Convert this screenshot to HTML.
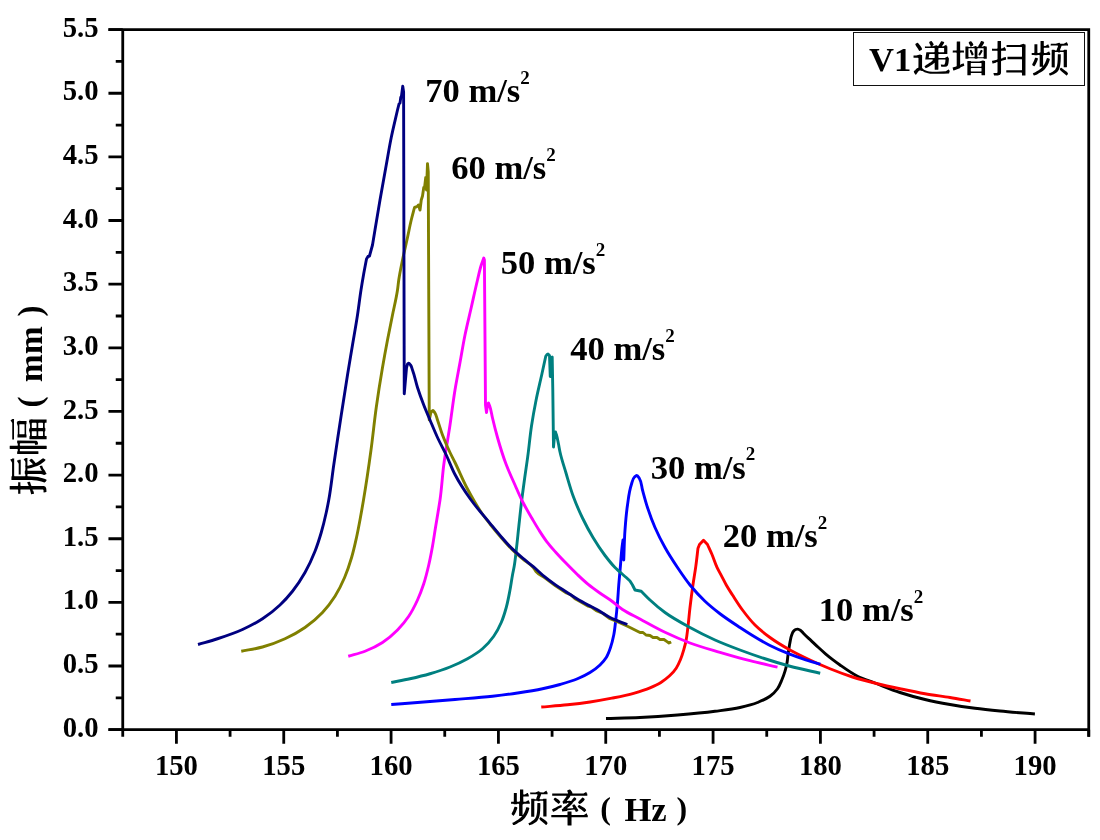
<!DOCTYPE html>
<html lang="zh"><head><meta charset="utf-8"><title>V1递增扫频</title>
<style>
html,body{margin:0;padding:0;background:#fff;}
body{width:1100px;height:840px;overflow:hidden;}
svg{display:block;}
text{font-family:"Liberation Serif",serif;font-weight:bold;fill:#000;}
</style></head><body>
<svg width="1100" height="840" viewBox="0 0 1100 840" style="will-change:transform">
<rect width="1100" height="840" fill="#fff"/>
<g fill="none" stroke-width="2.9" stroke-linejoin="round" stroke-linecap="butt">
<path stroke="#000000" d="M606 718.5C617.33 718.17 628.68 718.03 640 717.5C652.51 716.91 665.02 716.04 677.5 715C690.02 713.96 702.55 712.87 715 711.25C723.35 710.17 731.8 709.37 740 707.5C745.9 706.15 751.9 704.76 757.5 702.5C761.8 700.77 766.33 699.02 770 696.25C772.79 694.15 775.49 691.6 777.5 688.75C779.35 686.13 780.53 682.99 781.8 680C783.06 677.04 784.18 673.99 785.1 670.9C785.81 668.5 786.43 666.06 786.9 663.6C787.45 660.73 787.6 657.79 788 654.9C788.34 652.46 788.71 650.03 789.1 647.6C789.45 645.43 789.76 643.25 790.2 641.1C790.6 639.15 790.91 637.15 791.6 635.3C792.11 633.92 792.57 632.4 793.5 631.3C794.08 630.61 794.79 629.86 795.6 629.5C796.26 629.21 797.09 629.05 797.8 629.1C798.7 629.17 799.61 629.72 800.4 630.2C801.68 630.99 802.52 632.41 803.6 633.5C805.96 635.87 808.47 638.1 810.9 640.4C813.33 642.7 815.73 645.04 818.2 647.3C820.6 649.5 823.01 651.7 825.5 653.8C827.85 655.79 830.26 657.72 832.7 659.6C835.1 661.45 837.53 663.25 840 665C845.65 669.01 851.33 673.16 857.5 676.25C863.06 679.04 869.16 680.76 875 683C883.32 686.19 891.54 689.72 900 692.5C908.21 695.2 916.59 697.49 925 699.5C933.26 701.48 941.63 703.04 950 704.5C958.3 705.95 966.65 707.16 975 708.25C983.31 709.33 991.66 710.17 1000 711C1011.62 712.16 1023.27 713 1034.9 714"/>
<path stroke="#ff0000" d="M541.25 707C550 706.27 558.77 705.72 567.5 704.8C575.01 704.01 582.53 703.12 590 702C597.29 700.91 604.57 699.64 611.8 698.2C619.1 696.74 626.45 695.35 633.6 693.3C639.14 691.71 644.71 690.06 650 687.8C653.72 686.21 657.48 684.54 660.9 682.4C663.97 680.48 666.97 678.29 669.6 675.8C672.03 673.51 674.36 670.97 676.2 668.2C677.97 665.52 679.26 662.48 680.5 659.5C681.83 656.29 682.83 652.94 683.8 649.6C684.63 646.73 685.4 643.83 686 640.9C686.87 636.65 687.25 632.31 687.8 628C688.67 621.18 689.19 614.32 690 607.5C690.88 600.09 691.84 592.69 692.9 585.3C693.8 578.99 694.94 572.71 695.8 566.4C696.63 560.35 697.27 554.27 698 548.2L699.5 544.5L703.5 540.2L707.5 544.5L707.5 544.5C708.93 547.67 710.44 550.8 711.8 554C713.63 558.31 714.93 562.86 716.9 567.1C718.44 570.41 720.31 573.56 722 576.8C723.48 579.63 724.83 582.53 726.4 585.3C728.28 588.62 730.43 591.79 732.5 595C735.75 600.05 738.92 605.18 742.5 610C746.38 615.22 750.42 620.42 755 625C759.58 629.58 764.76 633.66 770 637.5C776.32 642.14 783.15 646.17 790 650C796.5 653.63 803.25 656.84 810 660C816.59 663.08 823.25 666.03 830 668.75C837.41 671.74 844.9 674.57 852.5 677C860.71 679.62 869.12 681.7 877.5 683.75C884.96 685.57 892.48 687.16 900 688.75C908.31 690.51 916.63 692.29 925 693.75C933.3 695.2 941.68 696.16 950 697.5C956.84 698.6 963.67 699.83 970.5 701"/>
<path stroke="#0000ff" d="M391.25 704.5C400 703.83 408.75 703.18 417.5 702.5C430 701.53 442.5 700.54 455 699.5C467.5 698.46 480.03 697.65 492.5 696.25C500.85 695.31 509.19 694.25 517.5 693C525.86 691.75 534.24 690.5 542.5 688.75C548.37 687.5 554.23 686.14 560 684.5C565.9 682.82 571.86 681.14 577.5 678.75C581.78 676.94 586.07 674.96 590 672.5C593.52 670.3 597.04 667.89 600 665C602.31 662.74 604.55 660.23 606.25 657.5C608.14 654.46 609.31 650.91 610.5 647.5C611.91 643.44 612.9 639.21 613.75 635C614.74 630.06 615.16 625.01 615.75 620C616.44 614.18 617 608.34 617.5 602.5C618 596.67 618.29 590.83 618.75 585C619.28 578.33 619.92 571.67 620.5 565C621 559.17 621.31 553.31 622 547.5C622.3 545 622.67 542.5 623 540L623.75 560L623.75 560C624.17 550 624.27 539.98 625 530C625.61 521.65 626.27 513.28 627.5 505C628.49 498.3 629.09 491.4 631.25 485C632.17 482.28 632.42 478.85 634.5 477C635.15 476.42 636.07 475.54 636.75 475.5C637.83 475.44 638.73 477.59 639.5 478.75C641.6 481.92 641.47 486.26 642.5 490C644.1 495.85 645.62 501.74 647.5 507.5C649.71 514.26 652.17 520.98 655 527.5C657.97 534.33 661.37 541 665 547.5C668.83 554.35 673.12 560.97 677.5 567.5C681.49 573.45 685.49 579.45 690 585C694.64 590.71 699.65 596.2 705 601.25C709.73 605.71 714.84 609.8 720 613.75C726.42 618.66 733.24 623.05 740 627.5C744.13 630.22 748.28 632.92 752.5 635.5C758.23 639 764.01 642.48 770 645.5C776.2 648.63 782.63 651.36 789.1 653.9C793.88 655.78 798.73 657.48 803.6 659.1C809.15 660.95 814.8 662.5 820.4 664.2"/>
<path stroke="#008080" d="M391.25 682.5C397.5 681.25 403.78 680.14 410 678.75C416.7 677.25 423.41 675.68 430 673.75C436.75 671.77 443.49 669.64 450 667C455.97 664.58 461.91 661.93 467.5 658.75C472.71 655.79 478.01 652.67 482.5 648.75C486.69 645.09 490.55 640.81 493.75 636.25C496.73 632.01 499.17 627.27 501.25 622.5C503.35 617.69 504.85 612.57 506.25 607.5C507.84 601.76 508.9 595.86 510 590C510.94 585.02 511.58 579.98 512.5 575C513.05 571.99 513.74 569.01 514.25 566C515.27 560.04 515.8 554.01 516.5 548C517.32 541.01 517.99 534 518.75 527C519.73 518 520.64 508.99 521.75 500C522.68 492.49 523.71 484.99 524.75 477.5C525.72 470.5 526.81 463.51 527.75 456.5C529.12 446.35 529.96 436.12 531.5 426C532.8 417.47 534.32 408.96 536 400.5C537.79 391.46 540.03 382.51 542 373.5C543.26 367.75 544.5 362 545.75 356.25L547 354.5L548 354L549.5 355.5L550.25 376.5L551.2 358L552.2 357L552.8 390L553.5 447L554.5 436L555.5 432C555.83 433 556.19 433.99 556.5 435C557.39 437.94 557.89 440.99 558.5 444C559.04 446.66 559.43 449.35 560 452C561.52 459.11 563.92 466.02 566 473C568.39 481.03 570.58 489.16 573.5 497C576.15 504.13 579.19 511.15 582.5 518C585.71 524.64 589.2 531.18 593 537.5C596.71 543.67 600.64 549.77 605 555.5C608.15 559.64 611.38 563.78 615 567.5C618.49 571.09 622.5 574.17 626.25 577.5L630 581L632.5 585L635 590L641.25 591.25L641.25 591.25C644.17 594.17 646.99 597.19 650 600C654.76 604.43 659.77 608.66 665 612.5C672.81 618.23 681.48 622.83 690 627.5C698.16 631.97 706.51 636.19 715 640C723.18 643.67 731.6 646.85 740 650C748.27 653.1 756.6 656.02 765 658.75C773.27 661.44 781.6 663.99 790 666.25C799.97 668.93 810.13 670.92 820.2 673.25"/>
<path stroke="#ff00ff" d="M348.25 656.25C353.83 654.58 359.59 653.36 365 651.25C371.05 648.89 377.08 646.05 382.5 642.5C387.91 638.96 392.96 634.62 397.5 630C401.63 625.79 405.46 621.14 408.75 616.25C412.17 611.17 414.95 605.58 417.5 600C419.91 594.73 421.94 589.26 423.75 583.75C425.76 577.61 427.28 571.3 428.75 565C430.19 558.8 431.37 552.52 432.5 546.25C433.62 540.02 434.48 533.75 435.5 527.5C436.32 522.5 437.18 517.5 438 512.5C438.68 508.34 439.39 504.17 440 500C441.69 488.39 442.24 476.63 443.75 465C445.49 451.62 448.01 438.35 450 425C451.74 413.34 453.09 401.63 455 390C456.51 380.81 458.33 371.67 460 362.5C461.67 353.33 463.14 344.13 465 335C466.88 325.79 469.17 316.67 471.25 307.5C473.33 298.33 475.29 289.14 477.5 280C478.71 274.99 479.67 269.9 481.25 265C482.01 262.64 482.92 260.33 483.75 258L484.4 260L485.5 405L486.5 412.5L487.5 405L488.5 403C489 404.33 489.55 405.65 490 407C491.19 410.56 491.63 414.34 492.5 418C494.05 424.53 495.67 431.05 497.5 437.5C500.03 446.42 502.72 455.34 506 464C508.7 471.11 511.92 478.04 515 485C517.45 490.52 519.78 496.11 522.5 501.5C525.56 507.57 529.06 513.43 532.5 519.3C534.66 522.99 536.81 526.69 539.1 530.3C541.53 534.13 543.97 537.98 546.7 541.6C549.43 545.22 552.49 548.61 555.5 552C559.02 555.97 562.71 559.79 566.4 563.6C569.98 567.29 573.58 570.96 577.3 574.5C580.85 577.88 584.41 581.29 588.2 584.4C591.7 587.26 595.4 589.89 599.1 592.5C602.67 595.02 606.45 597.25 610 599.8C614.28 602.87 618.13 606.58 622.5 609.5C628 613.17 634.16 615.85 640 619C648.31 623.47 656.49 628.23 665 632.3C673.17 636.21 681.52 639.84 690 643C699.8 646.65 709.96 649.34 720 652.3C729.96 655.24 739.94 658.13 750 660.7C759.12 663.03 768.33 664.97 777.5 667.1"/>
<path stroke="#808000" d="M241.25 651.25C248.33 649.83 255.56 648.92 262.5 647C270.17 644.87 277.77 642.1 285 638.75C291.92 635.55 298.76 631.86 305 627.5C311.27 623.12 317.27 618.08 322.5 612.5C327.15 607.54 331.35 602 335 596.25C338.75 590.35 341.84 583.94 344.6 577.5C347.38 571.02 349.6 564.26 351.6 557.5C353.55 550.93 355.02 544.2 356.5 537.5C357.87 531.28 359.03 525.01 360.2 518.75C361.36 512.51 362.44 506.26 363.5 500C366.31 483.38 368.73 466.7 371 450C372.92 435.86 374.27 421.63 376.25 407.5C378.12 394.14 380.22 380.8 382.5 367.5C384.07 358.32 385.75 349.15 387.5 340C389.1 331.65 390.83 323.33 392.5 315C394.17 306.67 396.27 298.4 397.5 290C397.99 286.68 398.27 283.32 398.75 280C399.73 273.29 401.15 266.65 402.5 260C404.03 252.47 405.87 245.01 407.5 237.5C408.77 231.67 409.85 225.8 411.25 220C412.26 215.82 413.42 211.67 414.5 207.5L416 207L417.5 206.25L418.5 205L420 210L421.25 200L422.5 196L423.75 187.5L424.5 188L425.75 177.5L426.5 190L427.5 163.6L428.25 172L429.25 420L431 412L433 410.5C433.67 411.33 434.43 412.11 435 413C436.33 415.05 436.68 417.66 437.5 420C439.24 424.98 440.65 430.07 442.5 435C444.73 440.94 447.29 446.77 450 452.5C451.59 455.87 453.36 459.16 455 462.5C459.14 470.93 462.63 479.7 467 488C471.59 496.72 476.32 505.45 482 513.5C484.53 517.09 487.27 520.55 490 524C493.53 528.48 497.16 532.89 500.9 537.2C504.44 541.28 507.96 545.4 511.8 549.2C515.27 552.63 518.98 555.83 522.7 559C526.25 562.03 530.8 564.12 533.6 567.8C534.48 568.96 535.08 570.38 536 571.5C538.18 574.16 541.67 575.57 544.5 577.6L555.5 585.8L566.4 593L571 595L575 598.8L580 601.5L588.2 606.2L592 607.5L596.9 611L603 613.5L610 618.75L618 622L627.5 626.25L633 629L640 632.5L643 632.5L646 635L650 635.5L653 637.5L657 637.5L660 639.5L664 639.5L667 641.6L669 643L671.2 642"/>
<path stroke="#000080" d="M198 644.5C204.5 642.58 211.06 640.85 217.5 638.75C225.94 635.99 234.44 633.19 242.5 629.5C249.37 626.36 256.19 622.89 262.5 618.75C268.68 614.7 274.63 610.08 280 605C284.49 600.76 288.66 596.09 292.5 591.25C297.15 585.38 301.31 579.02 305 572.5C308.85 565.71 312.13 558.52 315 551.25C317.41 545.13 319.4 538.82 321.25 532.5C323.18 525.91 324.78 519.21 326.25 512.5C327.16 508.35 327.98 504.18 328.75 500C330.89 488.41 332.05 476.66 333.75 465C336.18 448.32 338.69 431.66 341.25 415C343.3 401.66 345.34 388.32 347.5 375C349.12 364.99 350.83 355 352.5 345C354.17 335 355.98 325.02 357.5 315C358.76 306.68 359.7 298.31 361 290C361.78 284.99 362.62 279.99 363.5 275C364.44 269.66 365.5 264.33 366.5 259L368 256.5L369.5 256L372.5 245C375 230 377.4 214.98 380 200C382.02 188.32 384.15 176.66 386.25 165C387.9 155.83 389.39 146.63 391.25 137.5C393.13 128.29 395.42 119.17 397.5 110L399 104L400 103L400.75 97.5L401.5 96L402.75 86.25L403.6 92L404.25 393.75L406.5 368L407.5 364C407.92 363.75 408.36 363.28 408.75 363.25C409.41 363.2 410 364.36 410.5 365C411.58 366.39 411.87 368.32 412.5 370C414.62 375.68 415.65 381.73 417.5 387.5C419.39 393.4 421.51 399.23 423.75 405C425.71 410.05 427.89 415.01 430 420C432.47 425.85 434.83 431.74 437.5 437.5C440.24 443.42 443.45 449.11 446.25 455C449.31 461.43 451.71 468.2 455 474.5C459.35 482.85 464.57 490.81 470 498.5C476.12 507.16 483.25 515.1 490 523.3C493.61 527.69 497.17 532.12 500.9 536.4C504.45 540.48 507.96 544.6 511.8 548.4C515.27 551.83 518.97 555.05 522.7 558.2C526.25 561.2 530.05 563.9 533.6 566.9C537.33 570.05 540.72 573.61 544.5 576.7C548.04 579.59 551.75 582.29 555.5 584.9C559.06 587.38 562.77 589.63 566.4 592C570.03 594.37 573.58 596.87 577.3 599.1C580.86 601.23 584.53 603.17 588.2 605.1C591.08 606.61 594.05 607.95 596.9 609.5C601.39 611.95 605.46 615.17 610 617.5C615.52 620.33 621.53 622.17 627.3 624.5"/>
</g>
<g stroke="#000" stroke-width="2.8" fill="none" stroke-linecap="butt">
<path d="M122.75 28.2 V736.75 M1088.75 28.2 V736.75 M108.45 29.6 H1090.15 M108.45 729.65 H1090.15"/>
<path d="M108.45 729.65H122.75M108.45 666.01H122.75M108.45 602.37H122.75M108.45 538.73H122.75M108.45 475.09H122.75M108.45 411.45H122.75M108.45 347.8H122.75M108.45 284.16H122.75M108.45 220.52H122.75M108.45 156.88H122.75M108.45 93.24H122.75M108.45 29.6H122.75M115.75 697.83H122.75M115.75 634.19H122.75M115.75 570.55H122.75M115.75 506.91H122.75M115.75 443.27H122.75M115.75 379.62H122.75M115.75 315.98H122.75M115.75 252.34H122.75M115.75 188.7H122.75M115.75 125.06H122.75M115.75 61.42H122.75M176.42 729.65V743.65M283.75 729.65V743.65M391.08 729.65V743.65M498.42 729.65V743.65M605.75 729.65V743.65M713.08 729.65V743.65M820.42 729.65V743.65M927.75 729.65V743.65M1035.08 729.65V743.65M230.08 729.65V736.75M337.42 729.65V736.75M444.75 729.65V736.75M552.08 729.65V736.75M659.42 729.65V736.75M766.75 729.65V736.75M874.08 729.65V736.75M981.42 729.65V736.75M1088.75 729.65V736.75"/>
</g>
<g font-size="28.7" text-anchor="end">
<text x="98.5" y="736.75">0.0</text>
<text x="98.5" y="673.11">0.5</text>
<text x="98.5" y="609.47">1.0</text>
<text x="98.5" y="545.83">1.5</text>
<text x="98.5" y="482.19">2.0</text>
<text x="98.5" y="418.55">2.5</text>
<text x="98.5" y="354.9">3.0</text>
<text x="98.5" y="291.26">3.5</text>
<text x="98.5" y="227.62">4.0</text>
<text x="98.5" y="163.98">4.5</text>
<text x="98.5" y="100.34">5.0</text>
<text x="98.5" y="36.7">5.5</text>
</g>
<g font-size="28.7" text-anchor="middle">
<text x="176.42" y="775">150</text>
<text x="283.75" y="775">155</text>
<text x="391.08" y="775">160</text>
<text x="498.42" y="775">165</text>
<text x="605.75" y="775">170</text>
<text x="713.08" y="775">175</text>
<text x="820.42" y="775">180</text>
<text x="927.75" y="775">185</text>
<text x="1035.08" y="775">190</text>
</g>
<g font-size="34.6">
<text x="425.2" y="102">70 m/s<tspan font-size="19" dy="-18.2">2</tspan></text>
<text x="451.2" y="178.75">60 m/s<tspan font-size="19" dy="-18.2">2</tspan></text>
<text x="500.7" y="273.75">50 m/s<tspan font-size="19" dy="-18.2">2</tspan></text>
<text x="570.2" y="360">40 m/s<tspan font-size="19" dy="-18.2">2</tspan></text>
<text x="650.7" y="478.6">30 m/s<tspan font-size="19" dy="-18.2">2</tspan></text>
<text x="722.7" y="547">20 m/s<tspan font-size="19" dy="-18.2">2</tspan></text>
<text x="818.7" y="621.25">10 m/s<tspan font-size="19" dy="-18.2">2</tspan></text>
</g>
<rect x="853.5" y="32.5" width="231" height="53" fill="#fff" stroke="#111" stroke-width="1"/>
<text x="869" y="71.25" font-size="34.6">V1</text>
<g role="img" aria-label="递增扫频"><title>递增扫频</title>
<path fill-rule="evenodd" transform="translate(913.5 41) scale(0.03972 0.03702)" d="M1 393L0 449L3 454L15 452L110 452L118 456L123 460L125 466L124 714L120 720L88 739L67 756L58 766L47 782L42 788L30 794L24 800L7 827L7 830L17 858L42 896L55 912L60 912L63 909L98 856L126 818L143 803L153 797L162 794L178 796L206 810L222 810L229 812L278 842L322 860L364 872L418 882L497 887L588 888L766 883L877 878L892 878L896 876L906 834L913 820L913 810L904 798L892 775L886 771L880 773L824 807L817 816L809 820L698 826L586 830L471 828L395 821L366 816L342 808L278 782L250 763L218 726L216 720L216 475L218 426L216 416L216 384L214 380L208 377L186 376L180 374L173 365L164 364L68 392L15 393L3 391ZM103 46L60 68L46 89L46 94L64 134L113 212L140 265L144 268L148 270L200 242L216 220L216 214L197 168L170 128L114 51L108 46ZM448 0L410 16L405 22L394 39L396 46L409 80L433 126L434 138L432 143L426 146L303 146L291 144L288 150L288 189L291 192L303 190L518 190L524 192L531 198L533 204L532 291L526 299L518 302L326 301L322 308L318 346L311 389L296 498L298 500L300 502L477 500L480 502L484 505L484 518L481 524L434 575L406 588L363 620L318 649L298 668L282 677L278 682L285 694L289 708L296 719L309 733L318 732L340 722L387 696L414 674L444 657L476 634L523 592L530 589L532 590L533 596L534 770L540 774L619 774L624 772L626 767L626 514L628 508L634 502L642 500L797 500L800 502L804 505L805 521L798 580L793 602L787 615L782 632L778 636L767 640L690 638L688 640L688 646L694 669L696 687L698 692L702 693L735 694L772 694L789 696L802 696L821 692L837 686L850 676L862 662L870 643L880 602L885 558L888 522L892 511L889 493L890 460L888 456L882 456L878 452L870 426L866 416L863 416L856 418L798 454L786 458L642 458L633 455L628 450L626 444L626 362L628 355L636 349L642 348L836 348L844 350L850 348L852 344L852 150L848 144L842 144L838 140L828 108L826 104L823 103L816 106L752 144L746 146L730 146L726 144L722 138L724 127L756 82L773 44L774 38L755 18L706 4L700 4L696 9L668 64L626 131L621 132L597 130L592 126L584 118L575 116L492 141L480 142L478 140L476 136L478 127L492 120L498 115L508 101L508 94L498 65L486 44L458 4L452 0ZM398 352L405 348L518 348L526 350L531 355L533 362L533 444L531 450L525 456L518 458L392 458L388 456L384 450L384 440L395 380L396 359ZM630 196L637 192L642 190L763 190L768 192L771 198L771 294L769 299L763 302L642 302L633 299L628 294L626 288L626 228L628 202Z"/>
<path fill-rule="evenodd" transform="translate(952.6 41) scale(0.03938 0.03700)" d="M822 540L816 538L792 537L778 524L768 526L674 554L477 554L470 552L458 542L448 538L382 538L378 540L375 546L375 919L377 924L382 926L458 926L462 919L462 874L468 866L474 863L720 862L728 866L734 874L735 919L739 926L816 926L821 924L824 919L824 636L826 586L824 578L824 546ZM462 742L468 734L477 730L724 732L733 738L735 744L734 814L728 822L720 825L472 824L464 818L462 811ZM462 604L468 596L477 592L724 594L733 600L735 606L734 684L728 692L720 695L472 694L464 688L462 681ZM722 236L717 237L714 240L693 288L664 346L657 366L658 372L666 383L686 392L694 392L709 370L752 298L762 270L762 261L752 248ZM468 236L446 246L438 255L436 264L442 285L471 348L484 386L486 390L492 392L524 378L533 368L534 360L524 328L502 282L478 240L474 237ZM184 13L112 13L105 17L104 245L102 252L96 257L88 259L19 259L7 257L4 262L4 310L7 316L19 314L88 314L98 316L102 321L104 328L104 672L99 682L90 688L1 718L0 725L6 744L10 768L18 792L22 796L32 795L181 734L189 728L198 716L205 710L283 678L292 676L296 672L288 618L286 608L282 605L273 606L224 624L216 629L205 639L201 641L195 640L192 634L192 324L198 316L207 314L272 314L284 316L288 310L288 262L284 257L272 259L207 259L200 257L192 250L192 20L190 16ZM788 23L780 16L730 0L723 2L692 66L656 130L652 139L650 153L644 160L636 160L622 152L600 149L588 136L582 134L508 161L484 162L479 160L476 156L476 148L478 143L482 140L496 135L511 128L516 122L528 104L526 97L515 68L502 45L471 4L468 3L461 4L424 21L410 40L408 46L422 82L454 140L456 154L454 159L448 162L416 162L408 160L394 152L387 150L330 150L326 153L325 156L326 476L330 480L387 479L394 478L408 469L416 468L546 468L553 469L571 478L616 479L623 478L638 469L644 468L775 468L782 469L796 478L804 479L866 478L868 473L868 246L870 213L868 153L863 150L844 150L838 149L826 136L822 134L814 135L750 157L744 157L741 153L740 148L742 141L760 120L781 89L802 46L801 39L794 32ZM638 196L644 194L775 194L784 196L788 200L789 205L789 424L788 430L784 434L775 436L644 436L636 434L632 430L630 424L630 246L632 204L634 198ZM407 196L416 194L546 194L554 196L558 200L560 205L560 424L558 430L554 434L546 436L416 436L407 434L403 430L402 424L402 205L403 200Z"/>
<path fill-rule="evenodd" transform="translate(991.9 41) scale(0.03874 0.03765)" d="M864 90L838 88L832 86L825 77L816 76L716 105L393 105L381 103L379 105L378 156L381 162L393 160L762 160L769 162L775 167L777 174L777 407L775 414L770 418L762 421L417 421L405 419L402 424L402 478L405 484L417 482L762 482L770 484L775 489L777 496L777 766L775 772L770 777L762 780L386 780L374 778L371 784L371 833L374 838L386 836L762 836L770 840L776 848L777 911L780 916L784 918L860 918L866 914L868 187L870 138L868 128L868 96ZM229 0L152 0L146 4L145 189L143 196L138 200L130 203L18 203L6 201L3 206L3 254L6 260L18 258L130 258L138 260L143 265L145 272L145 480L142 488L136 494L128 498L20 522L4 524L0 528L0 534L8 560L12 586L16 598L20 600L26 600L100 580L107 576L113 565L130 558L136 558L140 560L143 563L145 569L145 818L142 834L138 844L134 848L128 850L44 850L40 852L40 856L49 889L52 913L56 917L60 918L105 918L150 915L174 911L190 906L202 900L214 891L222 882L228 871L232 860L236 827L236 544L238 538L245 530L254 526L351 500L365 500L368 496L364 468L361 437L359 431L355 428L341 428L327 434L282 446L274 451L270 459L266 463L255 468L244 468L238 464L237 460L238 267L244 260L252 258L344 258L358 260L360 258L360 206L356 201L349 200L346 196L336 164L334 161L331 160L324 163L260 202L247 202L238 196L236 189L236 8L234 2Z"/>
<path fill-rule="evenodd" transform="translate(1031.7 41) scale(0.03950 0.03718)" d="M739 720L719 742L711 763L712 769L722 780L735 800L744 809L804 858L851 900L876 925L879 927L886 925L910 899L918 876L918 870L898 840L888 828L858 804L775 740L748 720L742 719ZM140 458L96 448L89 448L86 450L68 504L56 538L20 612L13 633L14 638L20 652L26 660L59 682L64 682L70 678L95 637L121 586L143 531L151 506L157 482L158 474L148 463ZM732 356L712 354L668 354L661 358L658 498L653 582L644 644L637 678L630 702L621 722L607 748L592 770L568 794L530 824L482 857L470 864L438 876L437 880L443 893L448 912L454 924L458 930L464 930L480 926L540 903L559 892L589 871L619 855L630 846L656 818L671 798L685 772L700 739L710 706L719 666L726 616L732 552L736 466L736 362ZM892 33L888 32L882 35L824 70L812 75L730 74L724 71L709 52L702 48L694 48L610 75L496 75L484 73L482 75L481 121L484 126L496 124L652 124L662 128L665 136L664 148L637 224L634 245L630 252L625 254L596 254L589 250L580 242L570 238L512 238L508 240L506 244L505 702L509 708L576 710L581 708L584 702L584 308L586 301L590 296L599 294L651 294L660 296L672 304L680 306L706 306L712 303L724 295L730 294L794 294L802 296L808 301L810 308L810 699L812 704L818 706L885 706L892 702L892 242L885 238L823 238L814 242L804 250L798 254L730 254L726 253L718 248L716 239L718 232L748 158L751 147L752 132L758 126L902 124L912 127L916 127L918 126L917 76L916 74L908 72L904 69L895 38ZM301 0L230 0L226 2L224 6L223 298L222 303L218 306L206 310L196 318L190 322L158 322L154 321L146 316L144 310L144 94L142 90L137 88L76 88L72 90L69 96L68 312L64 319L55 322L15 322L3 320L0 324L0 370L3 376L15 374L55 374L64 376L76 384L84 386L133 386L139 384L152 375L158 374L190 374L194 376L200 381L202 388L202 685L204 690L210 692L265 692L268 694L270 697L268 702L256 716L226 745L174 786L128 816L80 846L58 857L34 866L30 870L30 874L36 887L42 907L50 924L54 928L61 928L82 922L122 905L146 894L190 860L230 842L262 822L288 801L319 770L340 747L363 716L398 660L426 600L450 530L458 493L458 486L457 484L448 475L440 471L394 460L385 461L381 469L362 534L338 592L320 626L301 658L293 666L291 666L289 662L288 397L290 392L294 390L302 386L314 376L322 374L452 374L462 376L466 376L468 374L467 324L464 320L458 319L454 316L445 284L441 280L436 280L365 322L322 322L314 320L308 312L306 194L308 187L314 182L322 180L430 180L443 182L445 180L444 136L442 132L434 130L432 126L422 94L416 90L408 93L345 132L339 133L322 133L313 130L308 126L306 119L306 8L304 2Z"/>
</g>
<g role="img" aria-label="频率"><title>频率</title>
<path fill-rule="evenodd" transform="translate(511.1 789.5) scale(0.03972 0.03837)" d="M739 720L719 742L711 763L712 769L722 780L735 800L744 809L804 858L851 900L876 925L879 927L886 925L910 899L918 876L918 870L898 840L888 828L858 804L775 740L748 720L742 719ZM140 458L96 448L89 448L86 450L68 504L56 538L20 612L13 633L14 638L20 652L26 660L59 682L64 682L70 678L95 637L121 586L143 531L151 506L157 482L158 474L148 463ZM732 356L712 354L668 354L661 358L658 498L653 582L644 644L637 678L630 702L621 722L607 748L592 770L568 794L530 824L482 857L470 864L438 876L437 880L443 893L448 912L454 924L458 930L464 930L480 926L540 903L559 892L589 871L619 855L630 846L656 818L671 798L685 772L700 739L710 706L719 666L726 616L732 552L736 466L736 362ZM892 33L888 32L882 35L824 70L812 75L730 74L724 71L709 52L702 48L694 48L610 75L496 75L484 73L482 75L481 121L484 126L496 124L652 124L662 128L665 136L664 148L637 224L634 245L630 252L625 254L596 254L589 250L580 242L570 238L512 238L508 240L506 244L505 702L509 708L576 710L581 708L584 702L584 308L586 301L590 296L599 294L651 294L660 296L672 304L680 306L706 306L712 303L724 295L730 294L794 294L802 296L808 301L810 308L810 699L812 704L818 706L885 706L892 702L892 242L885 238L823 238L814 242L804 250L798 254L730 254L726 253L718 248L716 239L718 232L748 158L751 147L752 132L758 126L902 124L912 127L916 127L918 126L917 76L916 74L908 72L904 69L895 38ZM301 0L230 0L226 2L224 6L223 298L222 303L218 306L206 310L196 318L190 322L158 322L154 321L146 316L144 310L144 94L142 90L137 88L76 88L72 90L69 96L68 312L64 319L55 322L15 322L3 320L0 324L0 370L3 376L15 374L55 374L64 376L76 384L84 386L133 386L139 384L152 375L158 374L190 374L194 376L200 381L202 388L202 685L204 690L210 692L265 692L268 694L270 697L268 702L256 716L226 745L174 786L128 816L80 846L58 857L34 866L30 870L30 874L36 887L42 907L50 924L54 928L61 928L82 922L122 905L146 894L190 860L230 842L262 822L288 801L319 770L340 747L363 716L398 660L426 600L450 530L458 493L458 486L457 484L448 475L440 471L394 460L385 461L381 469L362 534L338 592L320 626L301 658L293 666L291 666L289 662L288 397L290 392L294 390L302 386L314 376L322 374L452 374L462 376L466 376L468 374L467 324L464 320L458 319L454 316L445 284L441 280L436 280L365 322L322 322L314 320L308 312L306 194L308 187L314 182L322 180L430 180L443 182L445 180L444 136L442 132L434 130L432 126L422 94L416 90L408 93L345 132L339 133L322 133L313 130L308 126L306 119L306 8L304 2Z"/>
<path fill-rule="evenodd" transform="translate(551.3 789.5) scale(0.04029 0.03861)" d="M904 665L902 660L895 659L891 656L882 623L879 620L876 618L868 622L808 658L799 662L510 662L504 660L502 654L502 578L499 572L493 570L410 571L404 573L402 578L402 654L401 657L398 660L15 662L3 660L0 665L0 714L3 719L15 717L398 718L401 722L402 725L403 928L410 932L494 932L499 930L502 924L502 725L502 722L506 718L890 717L902 720L904 718L906 714ZM666 418L659 436L653 444L654 449L668 460L694 488L748 526L784 556L816 583L820 585L826 584L854 560L862 541L867 534L867 530L852 514L835 492L824 482L748 432L697 401L690 400L686 402ZM250 402L247 400L242 400L168 434L143 448L115 466L60 492L34 507L22 512L20 518L25 530L30 549L44 574L48 577L55 576L118 545L138 532L162 510L174 501L258 458L260 454L260 448L256 420ZM90 214L68 232L56 257L57 261L72 274L86 293L96 303L145 344L174 371L178 374L184 372L214 346L224 323L224 317L211 302L194 280L181 268L104 216L96 213ZM782 210L773 210L730 255L701 283L692 294L679 314L666 329L666 334L678 355L684 361L705 374L710 374L720 370L758 340L790 312L804 298L830 260L830 256L824 248L818 234L808 226ZM23 106L22 158L25 163L37 161L370 161L374 162L377 166L378 176L375 184L340 232L308 270L305 276L302 288L300 294L278 312L279 320L288 347L290 365L294 372L300 372L334 364L380 360L387 357L398 346L408 342L418 342L424 344L428 349L428 358L424 364L364 418L306 466L302 472L298 486L294 491L279 500L260 510L260 516L267 540L270 563L273 569L276 572L324 562L387 554L394 550L405 538L412 536L562 521L574 521L578 524L578 530L589 536L606 579L610 582L614 584L656 566L661 562L671 547L672 543L668 529L646 492L636 483L630 464L593 409L578 390L572 385L564 386L538 396L530 402L522 418L522 422L532 444L544 467L544 476L540 482L528 485L405 494L400 490L399 480L401 474L448 438L520 370L526 362L528 350L532 344L581 294L596 284L607 274L622 248L620 241L612 226L607 220L574 200L568 200L562 205L510 270L504 282L502 290L500 293L494 295L472 296L446 292L437 292L415 298L403 298L396 296L391 288L392 280L423 246L458 200L466 186L470 168L474 163L480 161L878 161L890 164L894 161L893 108L890 104L883 104L880 100L870 68L867 64L862 64L800 102L788 106L534 106L526 102L524 96L521 80L503 48L478 10L468 0L460 0L416 12L412 14L396 32L396 40L416 88L415 102L412 106L408 106L37 106L25 104Z"/>
</g>
<text x="600.3" y="819.3" font-size="32">(</text>
<text x="624.4" y="820.5" font-size="34.6">Hz</text>
<text x="676.6" y="819.3" font-size="32">)</text>
<g transform="translate(41.9 497) rotate(-90)">
<g role="img" aria-label="振幅"><title>振幅</title>
<path fill-rule="evenodd" transform="translate(2.7 -32.2) scale(0.03969 0.03987)" d="M872 230L870 224L862 223L858 220L849 188L846 184L842 183L775 223L766 226L512 226L500 224L497 230L497 272L500 278L512 276L856 276L870 278L872 276ZM876 17L873 16L866 19L808 54L796 59L467 59L460 57L448 46L438 44L368 43L362 47L361 481L359 552L356 608L347 681L336 740L322 793L308 832L296 868L297 874L307 891L312 896L354 926L362 928L366 924L384 887L406 828L420 776L433 714L443 638L450 548L452 458L454 451L458 446L467 444L498 444L507 451L509 458L509 780L506 808L500 830L495 846L487 860L486 867L496 894L514 924L520 924L546 908L592 885L624 860L652 842L706 818L720 815L723 812L720 798L716 757L712 752L695 755L676 764L626 784L620 788L614 800L609 804L600 804L595 798L594 458L596 451L601 446L610 444L640 444L644 445L648 449L650 472L665 538L680 592L698 644L716 689L734 730L758 775L780 808L805 842L828 868L850 890L865 900L870 900L873 898L898 862L908 837L908 831L898 819L886 796L864 773L830 730L806 692L786 656L786 651L792 644L817 626L875 576L894 548L886 528L880 518L858 498L853 494L848 495L785 560L763 579L756 580L752 574L742 548L718 460L718 454L720 448L725 445L732 444L898 444L912 446L914 444L914 398L912 392L904 391L900 388L890 354L886 351L882 352L817 391L808 394L732 394L714 388L706 388L683 394L610 394L600 390L593 384L586 380L570 378L522 378L513 382L504 390L498 393L467 394L458 391L454 386L452 380L452 126L454 120L458 116L467 112L886 112L900 115L902 112L902 62L898 57L892 56L888 53L880 26ZM204 0L128 0L121 4L120 198L118 204L112 210L104 212L27 212L15 210L12 216L12 264L15 270L27 268L104 268L114 270L118 275L120 282L120 493L118 499L112 508L106 510L26 532L4 536L0 540L7 574L11 602L14 609L16 612L26 610L82 594L89 590L96 580L104 574L115 574L118 578L120 583L120 828L115 841L108 846L101 848L67 848L48 852L46 854L44 858L52 889L56 914L58 918L64 922L112 920L150 915L168 909L180 903L190 895L198 884L205 871L208 860L212 832L212 552L216 544L226 536L300 514L311 512L314 508L309 451L307 445L304 443L298 443L252 456L244 460L234 470L226 474L217 474L212 468L212 277L220 270L227 268L292 268L304 270L306 264L306 216L304 210L292 212L227 212L220 210L212 202L212 8L210 2Z"/>
<path fill-rule="evenodd" transform="translate(42.9 -32.2) scale(0.03924 0.03987)" d="M380 498L378 502L378 919L380 924L386 926L458 926L462 919L464 888L470 880L478 878L570 878L578 881L591 892L598 894L654 894L662 890L672 881L680 878L782 878L789 880L796 888L797 918L801 924L877 926L882 923L884 918L884 593L886 544L884 534L884 502L882 497L877 495L855 494L850 492L842 483L834 482L740 510L680 511L672 508L658 497L634 494L622 483L614 482L524 511L475 510L468 508L458 498L450 496L386 495ZM668 722L674 717L680 716L782 716L790 718L795 723L797 730L797 822L795 828L789 834L782 836L680 836L670 832L666 828L664 822L664 729ZM464 723L470 718L478 716L570 716L580 719L583 723L585 729L585 822L582 830L576 834L570 836L478 836L469 833L464 828L462 822L462 730ZM668 559L674 555L680 554L782 554L790 556L795 561L797 568L797 660L795 666L789 672L782 674L680 674L670 670L666 666L664 660L664 593L666 566ZM464 561L470 556L478 554L570 554L580 557L583 561L585 567L585 660L582 668L576 672L570 674L478 674L469 671L464 666L462 660L462 568ZM844 196L840 194L822 195L817 194L803 178L800 176L791 178L707 204L516 204L508 202L495 196L488 195L424 195L422 200L422 416L424 420L427 422L488 422L495 420L508 414L516 412L749 412L758 414L770 420L777 422L843 422L846 416L846 288L848 238L846 230L846 200ZM504 250L509 244L516 242L749 242L756 244L760 248L762 253L762 365L756 371L749 373L516 373L510 372L506 368L504 362ZM894 68L892 62L884 60L880 57L871 26L868 22L864 21L798 60L788 64L390 64L378 62L375 68L375 105L378 110L390 108L878 108L890 112L894 108ZM138 0L134 2L131 8L131 189L129 196L124 200L118 202L86 203L76 200L69 192L62 188L46 187L8 187L2 189L0 194L0 713L2 718L8 720L63 720L68 718L70 715L70 268L72 262L77 258L86 254L118 255L123 256L129 262L131 268L131 920L133 925L138 928L203 928L208 926L210 920L211 266L217 258L223 255L260 254L268 258L273 262L275 268L275 620L273 628L269 632L250 636L238 642L234 646L234 651L244 702L248 709L263 710L292 707L312 700L324 691L332 681L340 664L343 642L344 194L342 190L336 187L299 187L283 188L276 192L270 200L260 203L226 203L217 200L212 196L210 189L210 4L203 0Z"/>
</g>
<text x="89.4" y="-1.4" font-size="33">(</text>
<text x="114.8" y="0" font-size="33.6">mm</text>
<text x="180.6" y="-1.4" font-size="33">)</text>
</g>
</svg>
</body></html>
